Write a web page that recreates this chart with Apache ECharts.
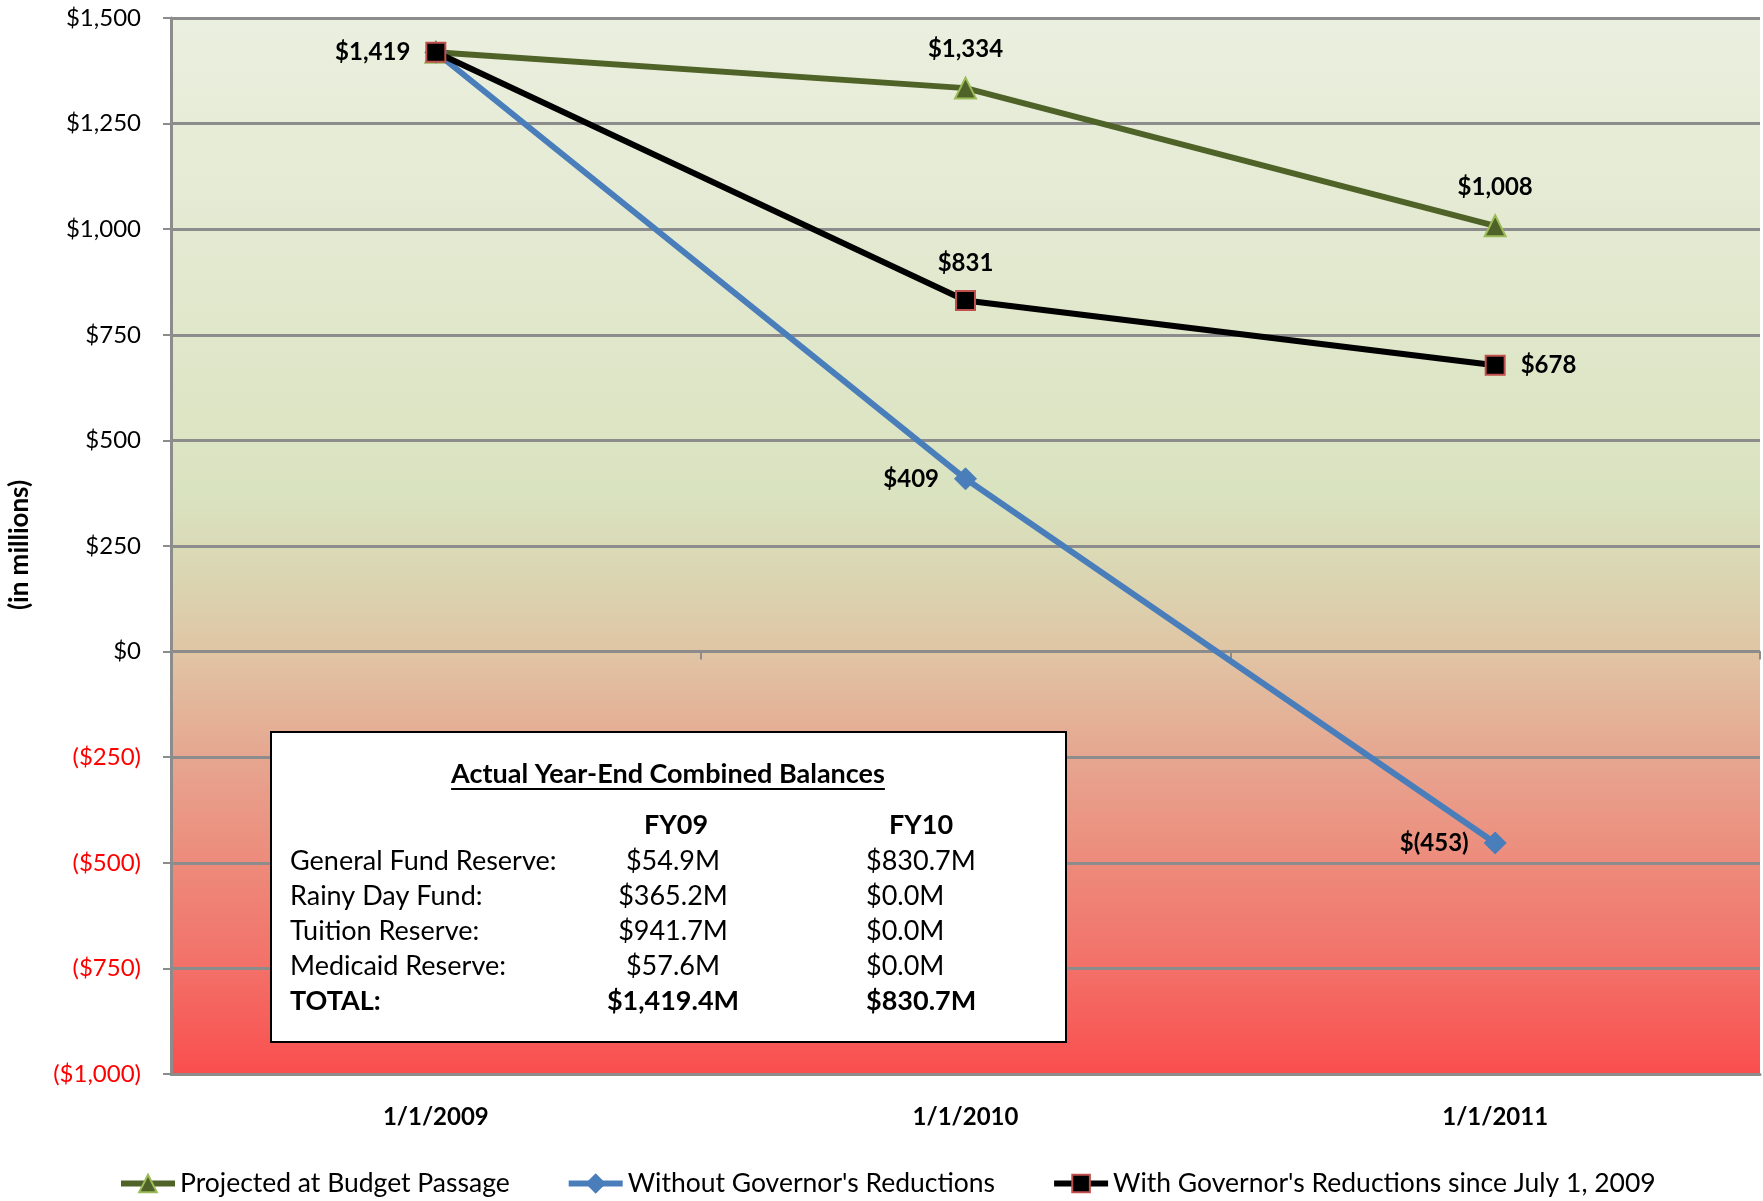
<!DOCTYPE html>
<html>
<head>
<meta charset="utf-8">
<script src="https://cdn.jsdelivr.net/npm/echarts@6/dist/echarts.min.js"></script>
<style>
  html, body { margin: 0; padding: 0; background: #fff; }
  #chart { width: 1763px; height: 1201px; }
</style>
</head>
<body>
<div id="chart"></div>
<script>
// ---- data ----
const dates = ['1/1/2009', '1/1/2010', '1/1/2011'];
const projectedAtPassage = [1419, 1334, 1008];
const withoutReductions = [1419, 409, -453];
const withReductions = [1419, 831, 678];
const seriesNames = [
  'Projected at Budget Passage',
  "Without Governor's Reductions",
  "With Governor's Reductions since July 1, 2009"
];
const yAxisName = '(in millions)';
const yMin = -1000, yMax = 1500, yStep = 250;

// year-end balances box
const balanceTitle = 'Actual Year-End Combined Balances';
const balanceHeaders = ['FY09', 'FY10'];
const balanceRows = ['General Fund Reserve:', 'Rainy Day Fund:', 'Tuition Reserve:', 'Medicaid Reserve:', 'TOTAL:'];
const fy09 = [54.9, 365.2, 941.7, 57.6, 1419.4];
const fy10 = [830.7, 0.0, 0.0, 0.0, 830.7];

// ---- helpers ----
const FONT = 'Lato, "Open Sans", "Noto Sans", sans-serif';
const fmtInt = v => Math.abs(v).toLocaleString('en-US');
const pointLabel = v => (v < 0 ? '$(' + fmtInt(v) + ')' : '$' + fmtInt(v));
const axisLabel = v => (v < 0 ? '($' + fmtInt(v) + ')' : '$' + fmtInt(v));
const millions = v => '$' + v.toLocaleString('en-US', { minimumFractionDigits: 1, maximumFractionDigits: 1 }) + 'M';

function measure(text, font) {
  const ctx = document.createElement('canvas').getContext('2d');
  ctx.font = font;
  return ctx.measureText(text).width;
}

const labelBase = {
  fontFamily: FONT, fontWeight: 'bold', fontSize: 24, color: '#000', distance: 15,
  formatter: p => pointLabel(p.value)
};
function withLabels(values, positions) {
  return values.map((v, i) => ({
    value: v,
    label: positions[i] ? Object.assign({ show: true, position: positions[i] }, labelBase) : { show: false }
  }));
}

// ---- balances box graphic ----
const box = { x: 271, y: 732, w: 795, h: 310 };
const TFS = 27;
const titleFont = 'bold ' + TFS + 'px ' + FONT;
const titleW = measure(balanceTitle, titleFont);
const titleX = 668, titleY = 774;
const colFY09 = 673, colFY10 = 866, rowX = 290, rowY0 = 861, rowStep = 35;

const tableGraphics = [
  { type: 'rect', shape: { x: box.x, y: box.y, width: box.w, height: box.h },
    style: { fill: '#fff', stroke: '#000', lineWidth: 2 }, z: 100 },
  { type: 'text', x: titleX, y: titleY, z: 101,
    style: { text: balanceTitle, font: titleFont, fill: '#000', align: 'center', verticalAlign: 'middle' } },
  { type: 'line', z: 101,
    shape: { x1: titleX - titleW / 2, y1: titleY + 15, x2: titleX + titleW / 2, y2: titleY + 15 },
    style: { stroke: '#000', lineWidth: 2 } },
  { type: 'text', x: 676, y: 825, z: 101,
    style: { text: balanceHeaders[0], font: 'bold ' + TFS + 'px ' + FONT, fill: '#000', align: 'center', verticalAlign: 'middle' } },
  { type: 'text', x: 921, y: 825, z: 101,
    style: { text: balanceHeaders[1], font: 'bold ' + TFS + 'px ' + FONT, fill: '#000', align: 'center', verticalAlign: 'middle' } }
];
balanceRows.forEach((name, i) => {
  const y = rowY0 + i * rowStep;
  const bold = i === balanceRows.length - 1;
  const font = (bold ? 'bold ' : '') + TFS + 'px ' + FONT;
  tableGraphics.push(
    { type: 'text', x: rowX, y, z: 101, style: { text: name, font, fill: '#000', align: 'left', verticalAlign: 'middle' } },
    { type: 'text', x: colFY09, y, z: 101, style: { text: millions(fy09[i]), font, fill: '#000', align: 'center', verticalAlign: 'middle' } },
    { type: 'text', x: colFY10, y, z: 101, style: { text: millions(fy10[i]), font, fill: '#000', align: 'left', verticalAlign: 'middle' } }
  );
});

// ---- chart ----
const chart = echarts.init(document.getElementById('chart'), null, { renderer: 'canvas' });

const option = {
  animation: false,
  backgroundColor: '#fff',
  textStyle: { fontFamily: FONT },
  grid: {
    left: 171, right: 3, top: 18, bottom: 127,
    show: true, borderWidth: 0,
    backgroundColor: new echarts.graphic.LinearGradient(0, 0, 0, 1, [
      { offset: 0.00, color: '#ebefdf' },
      { offset: 0.45, color: '#dae3c0' },
      { offset: 0.54, color: '#dbd3b0' },
      { offset: 0.60, color: '#e0c5a4' },
      { offset: 0.70, color: '#e6a690' },
      { offset: 0.80, color: '#ed8b7b' },
      { offset: 0.90, color: '#f37068' },
      { offset: 1.00, color: '#fa4e4e' }
    ])
  },
  xAxis: [
    {
      type: 'category', data: dates, position: 'bottom',
      axisLine: { onZero: true, lineStyle: { color: '#8c8c8c', width: 2 } },
      axisTick: { show: true, interval: 0, length: 8, lineStyle: { color: '#8c8c8c', width: 2 } },
      axisLabel: { show: false },
      splitLine: { show: false }
    },
    {
      type: 'category', data: dates, position: 'bottom',
      axisLine: { onZero: false, lineStyle: { color: '#8c8c8c', width: 3 } },
      axisTick: { show: false },
      axisLabel: { show: true, margin: 31, fontFamily: FONT, fontWeight: 'bold', fontSize: 24, color: '#000' },
      splitLine: { show: false }
    }
  ],
  yAxis: {
    type: 'value', min: yMin, max: yMax, interval: yStep,
    axisLine: { show: true, lineStyle: { color: '#8c8c8c', width: 3 } },
    axisTick: { show: true, length: 8, lineStyle: { color: '#8c8c8c', width: 2 } },
    axisLabel: {
      margin: 30, fontFamily: FONT, fontSize: 24,
      formatter: axisLabel,
      color: v => (v < 0 ? '#ff0000' : '#000')
    },
    splitLine: { show: true, lineStyle: { color: '#8c8c8c', width: 3 } }
  },
  legend: {
    left: 118, top: 1170, padding: 0,
    itemWidth: 54, itemHeight: 22, itemGap: 56,
    lineStyle: { width: 6 },
    textStyle: { fontFamily: FONT, fontSize: 26.5, color: '#000' },
    data: seriesNames
  },
  graphic: [
    { type: 'text', x: 20, y: 545, rotation: Math.PI / 2,
      style: { text: yAxisName, font: 'bold 26px ' + FONT, fill: '#000', align: 'center', verticalAlign: 'middle' } }
  ].concat(tableGraphics),
  series: [
    {
      name: seriesNames[0], type: 'line', xAxisIndex: 0,
      data: withLabels(projectedAtPassage, [null, 'top', 'top']),
      lineStyle: { color: '#4f6228', width: 6 },
      symbol: 'triangle', symbolSize: 21,
      itemStyle: { color: '#4f6228', borderColor: '#9bbb59', borderWidth: 2 },
      z: 3
    },
    {
      name: seriesNames[1], type: 'line', xAxisIndex: 0,
      data: withLabels(withoutReductions, [null, 'left', 'left']),
      lineStyle: { color: '#4a7ebb', width: 6 },
      symbol: 'diamond', symbolSize: 22,
      itemStyle: { color: '#4a7ebb', borderColor: '#4a7ebb', borderWidth: 1 },
      z: 4
    },
    {
      name: seriesNames[2], type: 'line', xAxisIndex: 0,
      data: withLabels(withReductions, ['left', 'top', 'right']),
      lineStyle: { color: '#000', width: 6 },
      symbol: 'rect', symbolSize: 19,
      itemStyle: { color: '#000', borderColor: '#c0504d', borderWidth: 2 },
      z: 5
    }
  ]
};

chart.setOption(option);
</script>
</body>
</html>
